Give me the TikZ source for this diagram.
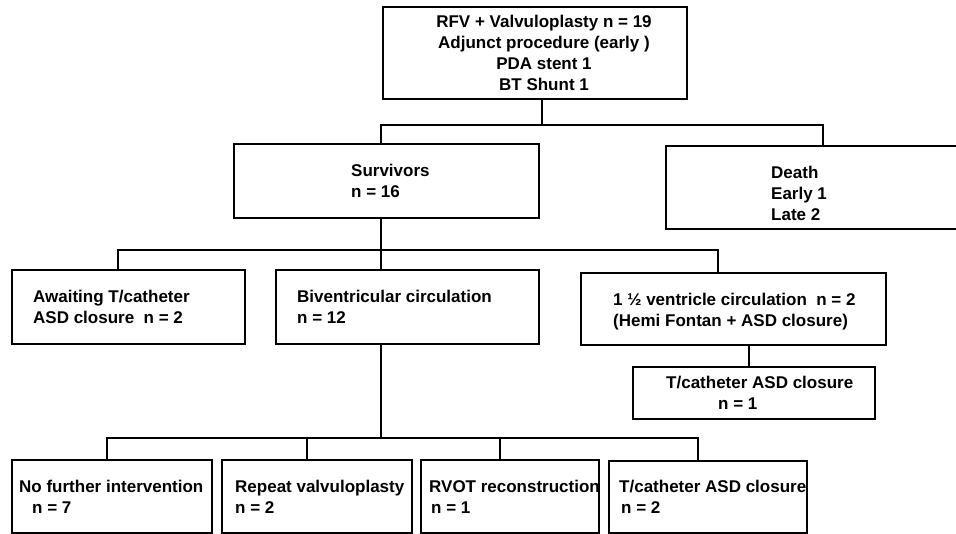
\documentclass[tikz,border=0pt]{standalone}
\usepackage{fontspec}
\setmainfont{Liberation Sans}
\usetikzlibrary{positioning}
\newcommand\boxfont{\fontsize{17}{21}\selectfont\bfseries}
\tikzset{box/.style={draw, line width=1.3pt, anchor=north west, inner sep=0pt, outer sep=0pt},
	txt/.style={font=\boxfont, align=left, inner sep=0pt},
	link/.style={line width=1.3pt}}

\begin{document}
\begin{tikzpicture}[x=1pt, y=-1pt]
		\useasboundingbox (0,0) rectangle (956,533);
		\clip (0,0) rectangle (956,533);
		
		% boxes
		\node[box, minimum width=304, minimum height=92] (top) at (383,7) {};
		\node[box, minimum width=305, minimum height=74] (surv) at (234,144) {};
		\node[box, minimum width=304, minimum height=83] (death) at (666,146) {};
		\node[box, minimum width=233, minimum height=74] (await) at (12,270) {};
		\node[box, minimum width=263, minimum height=74] (biv) at (276,270) {};
		\node[box, minimum width=305, minimum height=72] (half) at (581,273) {};
		\node[box, minimum width=242, minimum height=52] (tc1) at (633,367) {};
		\node[box, minimum width=200, minimum height=73] (nofur) at (12,460) {};
		\node[box, minimum width=190, minimum height=73] (rep) at (222,460) {};
		\node[box, minimum width=178, minimum height=73] (rvot) at (421,460) {};
		\node[box, minimum width=198, minimum height=72] (tc2) at (609,461) {};
		
		% texts
		\node[txt, align=center] (top-t) at ([xshift=9pt]top.center) {RFV + Valvuloplasty n = 19\\Adjunct procedure (early )\\PDA stent 1\\BT Shunt 1};
		\node[txt, right=117pt of surv.west] (surv-t) {Survivors\\n = 16};
		\node[txt, right=105pt of death.west, yshift=-6pt] (death-t) {Death\\Early 1\\Late 2};
		\node[txt, right=21pt of await.west] (await-t) {Awaiting T/catheter\\ASD closure\ \ n = 2};
		\node[txt, right=21pt of biv.west] (biv-t) {Biventricular circulation\\n = 12};
		\node[txt, right=32pt of half.west, yshift=-3pt] (half-t) {1 ½ ventricle circulation\ \ n = 2\\(Hemi Fontan + ASD closure)};
		\node[txt, right=33pt of tc1.west] (tc1-t) {T/catheter ASD closure\\\hspace*{52pt}n = 1};
		\node[txt, right=7pt of nofur.west] (nofur-t) {No further intervention\\\hspace*{13pt}n = 7};
		\node[txt, right=13pt of rep.west] (rep-t) {Repeat valvuloplasty\\n = 2};
		\node[txt, right=8pt of rvot.west] (rvot-t) {RVOT reconstruction\\\hspace*{2pt}n = 1};
		\node[txt, right=10pt of tc2.west] (tc2-t) {T/catheter ASD closure\\\hspace*{2pt}n = 2};
		
		% bus lines
		\coordinate (bus1) at (0,125);
		\coordinate (bus2) at (0,250);
		\coordinate (bus3) at (0,438);
		\coordinate (xtop) at (542,0);
		\coordinate (xtrunk) at (381,0);
		\coordinate (xdeath) at (823,0);
		\coordinate (xawait) at (118,0);
		\coordinate (xhalf) at (718,0);
		\coordinate (xtc1) at (749,0);
		\coordinate (xnofur) at (107,0);
		\coordinate (xrep) at (307,0);
		\coordinate (xrvot) at (500,0);
		\coordinate (xtc2) at (698,0);
		
		\draw[link] (top.south -| xtop) -- (bus1 -| xtop);
		\draw[link] (surv.north -| xtrunk) |- (bus1 -| xdeath) -- (death.north -| xdeath);
		\draw[link] (surv.south -| xtrunk) -- (biv.north -| xtrunk);
		\draw[link] (await.north -| xawait) |- (bus2 -| xhalf) -- (half.north -| xhalf);
		\draw[link] (half.south -| xtc1) -- (tc1.north -| xtc1);
		\draw[link] (biv.south -| xtrunk) -- (bus3 -| xtrunk);
		\draw[link] (nofur.north -| xnofur) |- (bus3 -| xtc2) -- (tc2.north -| xtc2);
		\draw[link] (rep.north -| xrep) -- (bus3 -| xrep);
		\draw[link] (rvot.north -| xrvot) -- (bus3 -| xrvot);
		
\end{tikzpicture}
\end{document}
